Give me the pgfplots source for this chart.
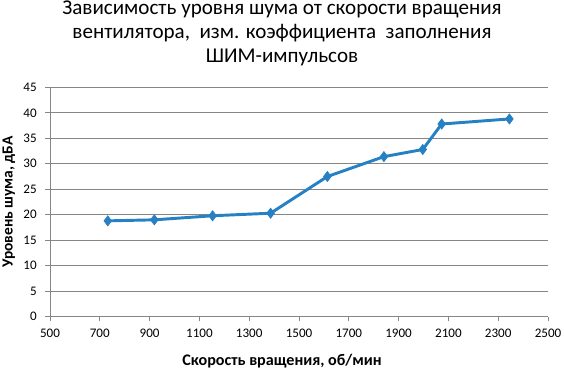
\documentclass[border=0pt]{standalone}
\usepackage{fontspec}
\setmainfont{Carlito}
\usepackage{pgfplots}
\pgfplotsset{compat=1.18}
\definecolor{serblue}{RGB}{38,128,196}
\definecolor{gridgray}{RGB}{134,134,134}
\begin{document}
\begin{tikzpicture}[x=1pt,y=1pt]
\begin{axis}[
  scale only axis,
  width=373.5pt, height=172pt,
  at={(0,0)}, anchor=south west,
  xmin=500, xmax=2500, ymin=0, ymax=45,
  xtick={500,700,...,2500},
  ytick={0,5,...,45},
  axis x line*=bottom, axis y line*=left,
  axis line style={gridgray, line width=0.75pt, -},
  ymajorgrids, grid style={gridgray, line width=0.75pt},
  tick style={gridgray, line width=0.75pt},
  tick align=outside, major tick length=3.5pt,
  ticklabel style={font=\fontsize{9.8}{11}\selectfont, text=black},
  /pgf/number format/assume math mode=true,
  /pgf/number format/1000 sep={},
  xticklabel style={yshift=-2pt},
  yticklabel style={xshift=-3pt},
  clip=false,
]
\addplot[serblue, line width=2.2pt, mark=diamond*, mark size=3.8pt,
  mark options={fill=serblue, draw=serblue, line width=0.5pt}]
coordinates {
(732,18.8) (919,19.0) (1153,19.8) (1386,20.3) (1614,27.5)
(1841,31.4) (1997,32.8) (2073,37.8) (2345,38.8)
};
\end{axis}
\begin{scope}[every node/.style={font=\fontsize{15.8}{18}\selectfont, anchor=base}]
\node at (174pt,226.3pt) {Зависимость уровня шума от скорости вращения};
\node at (174pt,208.3pt) {вентилятора,\ \ изм. коэффициента\ \ заполнения};
\node at (174pt,190.3pt) {ШИМ-импульсов};
\end{scope}
\node[font=\bfseries\fontsize{12.1}{13}\selectfont, anchor=base] at (174pt,-36.5pt) {Скорость вращения, об/мин};
\node[font=\bfseries\fontsize{11.6}{13}\selectfont, rotate=90, anchor=base] at (-28pt,86pt) {Уровень шума, дБА};
\pgfresetboundingbox
\useasboundingbox (-37.5pt,-38.5pt) rectangle (385.5pt,237.5pt);
\end{tikzpicture}
\end{document}
